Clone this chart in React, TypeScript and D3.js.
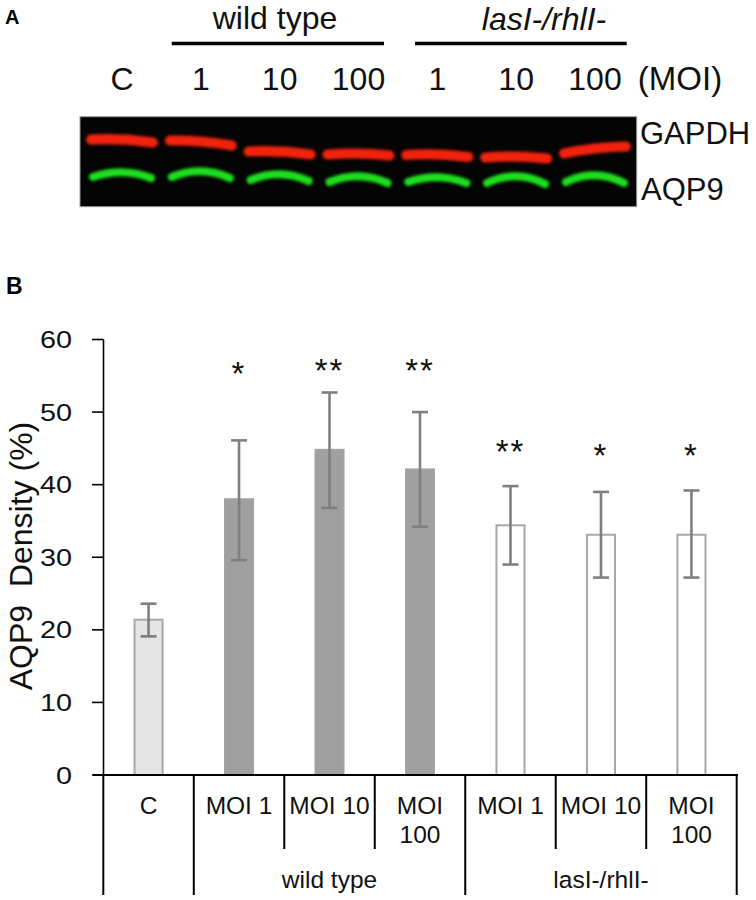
import React from 'react';
import * as d3 from 'd3';

// ---- Panel B data ----
const categories = ['C', 'MOI 1', 'MOI 10', 'MOI 100', 'MOI 1', 'MOI 10', 'MOI 100'];
const categoryLines = [['C'], ['MOI 1'], ['MOI 10'], ['MOI', '100'], ['MOI 1'], ['MOI 10'], ['MOI', '100']];
const barGroup = ['control', 'wt', 'wt', 'wt', 'mut', 'mut', 'mut'];
const means = [21.4, 38.0, 44.8, 42.1, 34.4, 33.1, 33.1];
const errUpper = [23.6, 46.1, 52.7, 50.0, 39.8, 39.0, 39.2];
const errLower = [19.1, 29.6, 36.8, 34.2, 29.0, 27.2, 27.2];
const stars = ['', '*', '**', '**', '**', '*', '*'];
const starLevel = [0, 56.3, 56.8, 56.7, 45.6, 45.1, 45.1];
const yTicks = [0, 10, 20, 30, 40, 50, 60];
const groupNames = ['', 'wild type', 'lasI-/rhlI-'];
const groupStart = [0, 1, 4];
const groupEnd = [1, 4, 7];

// ---- Panel A (blot) data ----
const laneLabels = ['C', '1', '10', '100', '1', '10', '100'];
const redBandY = [141, 143, 153, 155, 156, 158, 150];
const redBandTilt = [3, 5, 3, 1, 2, 1, -7];
const greenBandY = [177, 177, 180, 182, 182, 183, 182];
const greenArch = [5, 6, 6, 6, 5, 7, 7];

const W = 756;
const H = 900;
const FONT = 'Liberation Sans, Arial, Helvetica, sans-serif';

export default function App() {
  // chart scales
  const x = d3.scaleBand<number>().domain(d3.range(categories.length)).range([103.3, 736.7]).padding(0);
  const y = d3.scaleLinear().domain([0, 60]).range([775, 339.5]);
  const barW = x.bandwidth() * 0.31;
  const cx = (i: number) => (x(i) as number) + x.bandwidth() / 2;

  // blot scales
  const lane = d3.scalePoint<number>().domain(d3.range(laneLabels.length)).range([122, 595]);
  const blotX0 = 80, blotX1 = 636.7, blotY0 = 116.7, blotY1 = 206.7;
  const halfBand = 31;

  const fillFor = (g: string) => (g === 'control' ? '#e5e5e5' : g === 'wt' ? '#a0a0a0' : '#ffffff');
  const strokeFor = (g: string) => (g === 'wt' ? '#a3a3a3' : '#a8a8a8');

  const redPath = (i: number) => {
    const c = lane(i) as number;
    const yl = redBandY[i] - redBandTilt[i] / 2;
    const yr = redBandY[i] + redBandTilt[i] / 2;
    const p = d3.path();
    p.moveTo(c - halfBand, yl);
    p.quadraticCurveTo(c, (yl + yr) / 2 - 3, c + halfBand, yr);
    return p.toString();
  };
  const greenPath = (i: number) => {
    const c = lane(i) as number;
    const yb = greenBandY[i];
    const p = d3.path();
    p.moveTo(c - halfBand + 2, yb);
    p.quadraticCurveTo(c, yb - greenArch[i] * 2, c + halfBand - 2, yb + 1);
    return p.toString();
  };

  const tableTop = 775;
  const tableMid = 849;
  const tableBot = 895;

  return (
    <svg width={W} height={H} style={{ position: 'absolute', left: 0, top: 0, background: '#fff' }} fontFamily={FONT}>
      <defs>
        <filter id="blur" x="-20%" y="-100%" width="140%" height="300%">
          <feGaussianBlur stdDeviation="1.6" />
        </filter>
      </defs>
      <rect x={0} y={0} width={W} height={H} fill="#fff" />

      {/* ===== Panel A ===== */}
      <text x={5} y={24} fontSize={20} fontWeight="bold" fill="#000">A</text>
      <text x={275} y={28.5} fontSize={32} textAnchor="middle" fill="#111">wild type</text>
      <line x1={171.7} x2={384} y1={43.5} y2={43.5} stroke="#000" strokeWidth={3.5} />
      <text x={544} y={30} fontSize={32} fontStyle="italic" textAnchor="middle" fill="#111">lasI-/rhlI-</text>
      <line x1={415} x2={626.7} y1={43.5} y2={43.5} stroke="#000" strokeWidth={3.5} />
      {laneLabels.map((t, i) => (
        <text key={'ll' + i} x={lane(i) as number} y={90} fontSize={32} textAnchor="middle" fill="#111">{t}</text>
      ))}
      <text x={680} y={90} fontSize={33} textAnchor="middle" fill="#111">(MOI)</text>

      <rect x={blotX0} y={blotY0} width={blotX1 - blotX0} height={blotY1 - blotY0} fill="#040404" stroke="#9a9a9a" strokeWidth={1} />
      <g filter="url(#blur)">
        {laneLabels.map((_, i) => (
          <path key={'r' + i} d={redPath(i)} fill="none" stroke="#f2200c" strokeWidth={10} strokeLinecap="round" />
        ))}
        {laneLabels.map((_, i) => (
          <path key={'g' + i} d={greenPath(i)} fill="none" stroke="#1fe01f" strokeWidth={8} strokeLinecap="round" />
        ))}
      </g>
      <text x={640} y={143.5} fontSize={31} fill="#111">GAPDH</text>
      <text x={641} y={200} fontSize={31} fill="#111">AQP9</text>

      {/* ===== Panel B ===== */}
      <text x={6} y={294} fontSize={23} fontWeight="bold" fill="#000">B</text>

      {/* y axis */}
      <line x1={103.5} x2={103.5} y1={y(60)} y2={y(0)} stroke="#000" strokeWidth={1.6} />
      {yTicks.map((t) => (
        <g key={'yt' + t}>
          <line x1={92} x2={103.5} y1={y(t)} y2={y(t)} stroke="#000" strokeWidth={1.6} />
          <text transform={`translate(72,${y(t) + 8.5}) scale(1.2,1)`} fontSize={24} textAnchor="end" fill="#111">{t}</text>
        </g>
      ))}
      <text transform="translate(32,556) rotate(-90)" fontSize={32} textAnchor="middle" fill="#111">{'AQP9\u00a0 Density (%)'}</text>

      {/* bars */}
      {means.map((v, i) => (
        <rect key={'b' + i} x={cx(i) - barW / 2} y={y(v)} width={barW} height={y(0) - y(v)}
          fill={fillFor(barGroup[i])} stroke={strokeFor(barGroup[i])} strokeWidth={2} />
      ))}
      {/* error bars */}
      {means.map((_, i) => (
        <g key={'e' + i} stroke="#7f7f7f" strokeWidth={2.6}>
          <line x1={cx(i)} x2={cx(i)} y1={y(errUpper[i])} y2={y(errLower[i])} />
          <line x1={cx(i) - 8} x2={cx(i) + 8} y1={y(errUpper[i])} y2={y(errUpper[i])} />
          <line x1={cx(i) - 8} x2={cx(i) + 8} y1={y(errLower[i])} y2={y(errLower[i])} />
        </g>
      ))}
      {/* significance stars */}
      {stars.map((s, i) => s ? (
        <text key={'s' + i} x={cx(i)} y={y(starLevel[i]) + 19} fontSize={33} letterSpacing={2} textAnchor="middle" fill="#111">{s}</text>
      ) : null)}

      {/* x axis / table */}
      <line x1={93} x2={738} y1={tableTop} y2={tableTop} stroke="#000" strokeWidth={2} />
      {d3.range(categories.length + 1).map((k) => {
        const xx = k < categories.length ? (x(k) as number) : 736.7;
        const full = groupStart.includes(k) || k === categories.length;
        return <line key={'v' + k} x1={xx} x2={xx} y1={tableTop} y2={full ? tableBot : tableMid} stroke="#000" strokeWidth={2} />;
      })}
      {categoryLines.map((lines, i) => (
        <text key={'c' + i} x={cx(i)} y={813.5} fontSize={24.5} textAnchor="middle" fill="#111">
          {lines.map((ln, j) => (
            <tspan key={j} x={cx(i)} dy={j === 0 ? 0 : 29}>{ln}</tspan>
          ))}
        </text>
      ))}
      {groupNames.map((g, gi) => g ? (
        <text key={'g' + gi} x={((x(groupStart[gi]) as number) + (groupEnd[gi] < categories.length ? (x(groupEnd[gi]) as number) : 736.7)) / 2}
          y={888} fontSize={24.5} textAnchor="middle" fill="#111">{g}</text>
      ) : null)}
    </svg>
  );
}
